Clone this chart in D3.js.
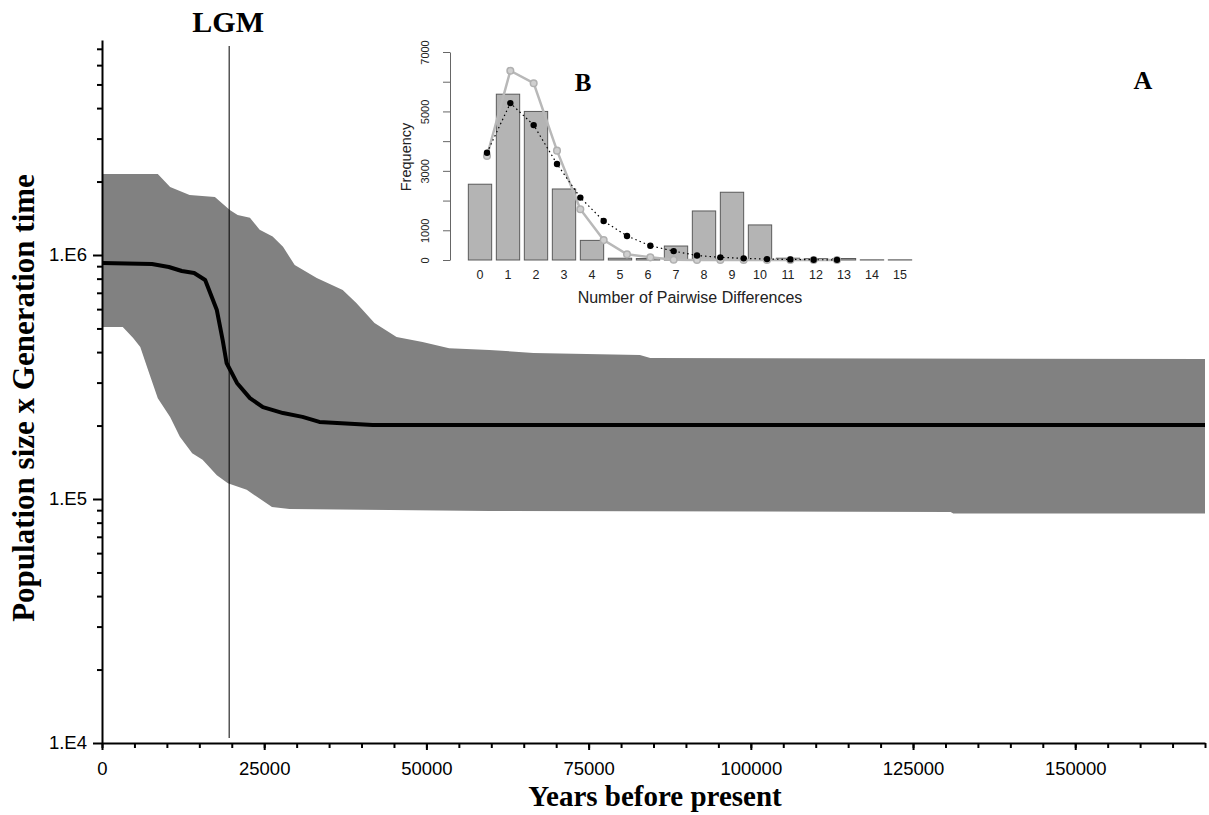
<!DOCTYPE html>
<html>
<head>
<meta charset="utf-8">
<script src="https://cdn.jsdelivr.net/npm/d3@7"></script>
<style>
  body { margin: 0; background: #fff; }
  svg { display: block; }
</style>
</head>
<body>
<svg width="1209" height="815"></svg>
<script>
const svg = d3.select("svg");

// Bayesian skyline: [years before present, population size x generation time]
const bandUpper = [
  [0, 2.15e6], [8600, 2.15e6], [10500, 1.90e6], [13500, 1.76e6], [17400, 1.73e6],
  [19700, 1.53e6], [20900, 1.46e6], [22800, 1.42e6], [24300, 1.27e6], [26300, 1.19e6],
  [27900, 1.08e6], [29700, 9.1e5], [33100, 8.05e5], [37100, 7.19e5], [39200, 6.36e5],
  [42000, 5.26e5], [45400, 4.61e5], [49400, 4.40e5], [53500, 4.15e5], [59700, 4.08e5],
  [66500, 3.97e5], [82900, 3.89e5], [84500, 3.78e5], [170000, 3.75e5]
];
const bandLower = [
  [0, 5.07e5], [3200, 5.07e5], [4800, 4.57e5], [5900, 4.20e5], [7100, 3.38e5],
  [8600, 2.59e5], [10500, 2.17e5], [12000, 1.80e5], [13900, 1.54e5], [15500, 1.45e5],
  [17700, 1.25e5], [19400, 1.16e5], [22300, 1.09e5], [26200, 9.27e4], [28900, 9.1e4],
  [59700, 8.93e4], [130800, 8.85e4], [131200, 8.72e4], [170000, 8.72e4]
];
const median = [
  [0, 9.27e5], [7700, 9.19e5], [10300, 8.93e5], [12300, 8.6e5], [14200, 8.44e5],
  [15900, 7.9e5], [17700, 5.95e5], [18600, 4.48e5], [19200, 3.61e5], [20800, 2.99e5],
  [22800, 2.59e5], [24800, 2.38e5], [27900, 2.25e5], [30900, 2.17e5], [33500, 2.07e5],
  [41700, 2.01e5], [170000, 2.01e5]
];
const lgmYear = 19600;

const xTicks = [0, 25000, 50000, 75000, 100000, 125000, 150000];
const yMajor = [1e4, 1e5, 1e6];
const yLabels = ["1.E4", "1.E5", "1.E6"];

// Inset B: mismatch distribution
const diffs = [0, 1, 2, 3, 4, 5, 6, 7, 8, 9, 10, 11, 12, 13, 14, 15];
const observed = [2550, 5580, 5000, 2390, 660, 60, 50, 470, 1650, 2280, 1180, 60, 50, 50, 5, 5];
const expectedGray = [3500, 6370, 5950, 3680, 1710, 670, 190, 90, 10, 3, 2, 0, 0, 0, 0, 0];
const expectedBlack = [3610, 5280, 4540, 3230, 2100, 1310, 810, 480, 300, 150, 90, 55, 30, 20, 10, 5];
const freqTicks = [0, 1000, 2000, 3000, 4000, 5000, 6000, 7000];
const freqLabels = ["0", "1000", "", "3000", "", "5000", "", "7000"];

const sans = "'Liberation Sans', Arial, Helvetica, sans-serif";
const serif = "'Liberation Serif', 'Times New Roman', serif";

// ---------- main chart ----------
const x = d3.scaleLinear().domain([0, 170000]).range([102, 1205]);
const y = d3.scaleLog().domain([1e4, Math.pow(10, 6 + 215 / 244)]).range([743, 40]);

const bandPts = bandUpper.concat(bandLower.slice().reverse());
svg.append("path")
  .attr("d", d3.line().x(d => x(d[0])).y(d => y(d[1]))(bandPts) + "Z")
  .attr("fill", "#818181");

svg.append("path")
  .attr("d", d3.line().x(d => x(d[0])).y(d => y(d[1]))(median))
  .attr("fill", "none")
  .attr("stroke", "#000")
  .attr("stroke-width", 4)
  .attr("stroke-linejoin", "round");

// LGM line
svg.append("line")
  .attr("x1", x(lgmYear)).attr("x2", x(lgmYear))
  .attr("y1", 46).attr("y2", 738)
  .attr("stroke", "#000").attr("stroke-width", 1);
svg.append("text")
  .attr("x", x(lgmYear) - 1).attr("y", 32)
  .attr("text-anchor", "middle")
  .attr("font-family", serif).attr("font-weight", "bold").attr("font-size", 30)
  .text("LGM");

// y axis minor ticks
const yMinor = [];
for (let p = 4; p <= 6; p++) for (let m = 2; m <= 9; m++) {
  const v = m * Math.pow(10, p);
  if (v <= y.domain()[1]) yMinor.push(v);
}
svg.append("g").attr("transform", "translate(102,0)")
  .call(d3.axisLeft(y).tickValues(yMinor).tickSize(5).tickFormat(""))
  .call(g => g.select(".domain").remove())
  .call(g => g.selectAll("line").attr("stroke-width", 2));

const yAxis = svg.append("g").attr("transform", "translate(102,0)")
  .call(d3.axisLeft(y).tickValues(yMajor).tickSize(9).tickSizeOuter(0).tickPadding(6)
    .tickFormat((d, i) => yLabels[i]));
yAxis.select(".domain").attr("stroke-width", 2);
yAxis.selectAll("line").attr("stroke-width", 2);
yAxis.selectAll("text").attr("font-family", sans).attr("font-size", 18.5).attr("fill", "#000");

// x axis
svg.append("g").attr("transform", "translate(0,743)")
  .call(d3.axisBottom(x).tickValues(d3.range(0, 170001, 5000)).tickSize(5).tickFormat(""))
  .call(g => g.select(".domain").remove())
  .call(g => g.selectAll("line").attr("stroke-width", 2));

const xAxis = svg.append("g").attr("transform", "translate(0,743)")
  .call(d3.axisBottom(x).tickValues(xTicks).tickSize(7).tickSizeOuter(0).tickPadding(12)
    .tickFormat(d3.format("d")));
xAxis.select(".domain").attr("stroke-width", 2);
xAxis.selectAll("line").attr("stroke-width", 2);
xAxis.selectAll("text").attr("font-family", sans).attr("font-size", 18.5).attr("fill", "#000");

svg.append("text")
  .attr("x", 655).attr("y", 806)
  .attr("text-anchor", "middle")
  .attr("font-family", serif).attr("font-weight", "bold").attr("font-size", 29)
  .text("Years before present");

svg.append("text")
  .attr("transform", "translate(34,398) rotate(-90)")
  .attr("text-anchor", "middle")
  .attr("font-family", serif).attr("font-weight", "bold").attr("font-size", 31)
  .text("Population size x Generation time");

svg.append("text")
  .attr("x", 1143).attr("y", 89)
  .attr("text-anchor", "middle")
  .attr("font-family", serif).attr("font-weight", "bold").attr("font-size", 26)
  .text("A");

// ---------- inset B ----------
const inX = d3.scaleLinear().domain([0.7, 18.7]).range([480, 900]);
const inY = d3.scaleLinear().domain([0, 7000]).range([260, 52]);
const inset = svg.append("g");

inset.selectAll("rect.bar").data(observed).join("rect")
  .attr("class", "bar")
  .attr("x", (d, i) => inX(0.2 + 1.2 * i))
  .attr("width", (d, i) => inX(1.2 + 1.2 * i) - inX(0.2 + 1.2 * i))
  .attr("y", d => inY(d))
  .attr("height", d => inY(0) - inY(d))
  .attr("fill", "#b4b4b4")
  .attr("stroke", "#5a5a5a")
  .attr("stroke-width", 1);

// model lines (drawn at positions 1..16 of the barplot frame)
const grayPts = expectedGray.map((v, i) => [i + 1, v]);
const blackPts = expectedBlack.map((v, i) => [i + 1, v]);
const inLine = d3.line().x(d => inX(d[0])).y(d => inY(d[1]));

inset.append("path").attr("d", inLine(grayPts))
  .attr("fill", "none").attr("stroke", "#b8b8b8").attr("stroke-width", 2.5);
inset.selectAll("circle.g").data(grayPts).join("circle")
  .attr("class", "g")
  .attr("cx", d => inX(d[0])).attr("cy", d => inY(d[1])).attr("r", 3.3)
  .attr("fill", "#cfcfcf").attr("stroke", "#b0b0b0").attr("stroke-width", 1.5);

inset.append("path").attr("d", inLine(blackPts))
  .attr("fill", "none").attr("stroke", "#000").attr("stroke-width", 1.2)
  .attr("stroke-dasharray", "1.5,3");
inset.selectAll("circle.b").data(blackPts).join("circle")
  .attr("class", "b")
  .attr("cx", d => inX(d[0])).attr("cy", d => inY(d[1])).attr("r", 3.2)
  .attr("fill", "#000");

// inset x labels
inset.selectAll("text.xl").data(diffs).join("text")
  .attr("class", "xl")
  .attr("x", (d, i) => inX(0.7 + 1.2 * i)).attr("y", 279)
  .attr("text-anchor", "middle")
  .attr("font-family", sans).attr("font-size", 12.5).attr("fill", "#222")
  .text(d => d);

inset.append("text")
  .attr("x", 690).attr("y", 303)
  .attr("text-anchor", "middle")
  .attr("font-family", sans).attr("font-size", 16).attr("fill", "#222")
  .text("Number of Pairwise Differences");

// inset y axis
const fAxis = inset.append("g").attr("transform", "translate(450,0)")
  .call(d3.axisLeft(inY).tickValues(freqTicks).tickSize(7).tickSizeOuter(0)
    .tickFormat((d, i) => freqLabels[i]));
fAxis.select(".domain").attr("stroke", "#666");
fAxis.selectAll("line").attr("stroke", "#666");
fAxis.selectAll("text")
  .attr("x", null).attr("dy", null)
  .attr("transform", "translate(-21,0) rotate(-90)")
  .attr("text-anchor", "middle")
  .attr("font-family", sans).attr("font-size", 11).attr("fill", "#222");

inset.append("text")
  .attr("transform", "translate(411,157) rotate(-90)")
  .attr("text-anchor", "middle")
  .attr("font-family", sans).attr("font-size", 14.5).attr("fill", "#222")
  .text("Frequency");

inset.append("text")
  .attr("x", 583).attr("y", 91)
  .attr("text-anchor", "middle")
  .attr("font-family", serif).attr("font-weight", "bold").attr("font-size", 25)
  .text("B");
</script>
</body>
</html>
